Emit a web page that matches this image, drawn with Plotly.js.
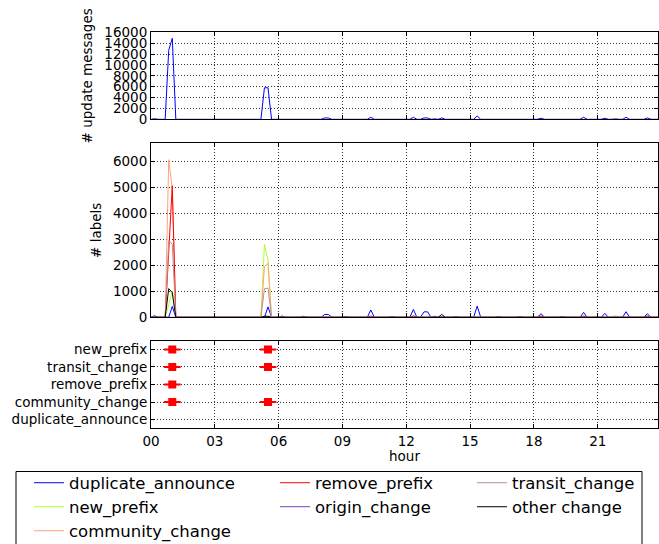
<!DOCTYPE html>
<html><head><meta charset="utf-8">
<script src="https://cdn.plot.ly/plotly-3.0.1.min.js"></script>
<style>html,body{margin:0;padding:0;background:#fff}</style>
</head><body><div id="chart" style="width:659px;height:544px"></div>
<script>
// 10-minute bins over one day (144 bins)
const hours = Array.from({length:144}, (_, i) => i / 6);
const tickHours = [0,3,6,9,12,15,18,21];
const tickLabels = ['00','03','06','09','12','15','18','21'];

const updateMessages = [
0,100,0,0,0,12700,14900,0,0,0,0,0,
0,0,0,0,0,0,0,0,0,0,0,0,
0,0,0,0,0,0,0,0,5800,5800,0,0,
0,60,0,0,0,0,0,50,0,0,0,0,
0,250,250,0,0,0,0,50,0,0,0,0,
0,0,370,0,0,0,0,0,50,0,0,0,
0,0,370,0,0,250,250,0,80,0,250,0,
0,0,60,0,0,0,0,0,600,0,0,0,
0,0,50,0,0,0,0,0,50,0,0,0,
0,0,200,0,0,0,0,0,50,0,0,0,
0,0,370,0,0,0,0,0,200,0,0,80,
0,0,370,0,0,0,0,0,250,0,0,0];

const duplicateAnnounce = [
0,60,0,0,0,0,420,0,0,0,0,0,
0,0,0,0,0,0,0,0,0,0,0,0,
0,0,0,0,0,0,0,0,0,400,0,0,
0,50,0,0,0,0,0,40,0,0,0,0,
0,110,110,0,0,0,0,30,0,0,0,0,
0,0,280,0,0,0,0,0,30,0,0,0,
0,0,300,0,0,210,210,0,40,0,30,0,
0,0,30,0,0,0,0,0,430,0,0,0,
0,0,30,0,0,0,0,0,30,0,0,0,
0,0,140,0,0,0,0,0,30,0,0,0,
0,0,190,0,0,0,0,0,150,0,0,0,
0,0,215,0,0,0,0,0,140,0,0,0];

const newPrefix = [
0,0,0,0,0,500,1000,0,0,0,0,0,
0,0,0,0,0,0,0,0,0,0,0,0,
0,0,0,0,0,0,0,0,2800,2200,0,0,
0,0,0,0,0,0,0,0,0,0,0,0,
0,0,0,0,0,0,0,0,0,0,0,0,
0,0,0,0,0,0,0,0,0,0,0,0,
0,0,0,0,0,0,0,0,0,0,0,0,
0,0,0,0,0,0,0,0,0,0,0,0,
0,0,0,0,0,0,0,0,0,0,0,0,
0,0,0,0,0,0,0,0,0,0,0,0,
0,0,0,0,0,0,0,0,0,0,0,0,
0,0,0,0,0,0,0,0,0,0,0,0];

const communityChange = [
0,0,0,0,0,6050,4950,0,0,0,0,0,
0,0,0,0,0,0,0,0,0,0,0,0,
0,0,0,0,0,0,0,0,1950,2070,0,0,
0,0,0,0,0,0,0,0,0,0,0,0,
0,0,0,0,0,0,0,0,0,0,0,0,
0,0,0,0,0,0,0,0,0,0,0,0,
0,0,0,0,0,0,0,0,0,0,0,0,
0,0,0,0,0,0,0,0,0,0,0,0,
0,0,0,0,0,0,0,0,0,0,0,0,
0,0,0,0,0,0,0,0,0,0,0,0,
0,0,0,0,0,0,0,0,0,0,0,60,
0,0,0,0,0,0,0,0,0,0,0,0];

const removePrefix = [
0,0,0,0,0,2500,5050,0,0,0,0,0,
0,0,0,0,0,0,0,0,0,0,0,0,
0,0,0,0,0,0,0,0,0,0,0,0,
0,0,0,0,0,0,0,0,0,0,0,0,
0,0,0,0,0,0,0,0,0,0,0,0,
0,0,50,0,0,0,0,0,0,0,0,0,
0,0,60,0,0,0,0,0,0,0,0,0,
0,0,0,0,0,0,0,0,0,0,0,0,
0,0,0,0,0,0,0,0,0,0,0,0,
0,0,50,0,0,0,0,0,0,0,0,0,
0,0,50,0,0,0,0,0,0,0,0,0,
0,0,0,0,0,0,0,0,50,0,0,0];

const originChange = [
0,0,0,0,0,0,0,0,0,0,0,0,
0,0,0,0,0,0,0,0,0,0,0,0,
0,0,0,0,0,0,0,0,0,0,0,0,
0,0,0,0,0,0,0,0,0,0,0,0,
0,20,20,0,0,0,0,0,0,0,0,0,
0,0,0,0,0,0,0,0,0,0,0,0,
0,0,0,0,0,0,0,0,0,0,0,0,
0,0,0,0,0,0,0,0,0,0,0,0,
0,0,0,0,0,0,0,0,0,0,0,0,
0,0,0,0,0,0,0,0,0,0,0,0,
0,0,0,0,0,0,0,0,0,0,0,0,
0,0,0,0,0,0,0,0,0,0,0,0];

const transitChange = [
0,0,0,0,0,2950,2800,0,0,0,0,0,
0,0,0,0,0,0,0,0,0,0,0,0,
0,0,0,0,0,0,0,0,1100,1120,0,0,
0,0,0,0,0,0,0,0,0,0,0,0,
0,0,0,0,0,0,0,0,0,0,0,0,
0,0,0,0,0,0,0,0,0,0,0,0,
0,0,0,0,0,0,0,0,0,0,0,0,
0,0,0,0,0,0,0,0,0,0,0,0,
0,0,0,0,0,0,0,0,0,0,0,0,
0,0,0,0,0,0,0,0,0,0,0,0,
0,0,0,0,0,0,0,0,0,0,0,0,
0,0,0,0,0,0,0,0,0,0,0,0];

const otherChange = [
0,0,0,0,0,1100,950,0,0,0,0,0,
0,0,0,0,0,0,0,0,0,0,0,0,
0,0,0,0,0,0,0,0,40,40,0,0,
0,0,0,0,0,0,0,0,0,0,0,0,
0,0,0,0,0,0,0,0,0,0,0,0,
0,0,0,0,0,0,0,0,0,0,0,0,
0,0,0,0,0,0,0,0,0,0,110,0,
0,0,0,0,0,0,0,0,0,0,0,0,
0,0,0,0,0,0,0,0,0,0,0,0,
0,0,0,0,0,0,0,0,0,0,0,0,
0,0,0,0,0,0,0,0,0,0,0,0,
0,0,0,0,0,0,0,0,0,0,0,0];

// detected events (bottom panel)
const eventCategories = ['duplicate_announce','community_change','remove_prefix','transit_change','new_prefix'];
const eventHours = [1.0, 1.0, 1.0, 1.0, 5.5, 5.5, 5.5];
const eventTypes = ['new_prefix','transit_change','remove_prefix','community_change','new_prefix','transit_change','community_change'];

const FONT = 'DejaVu Sans, sans-serif';
const W = 659, H = 544, L = 151, R = 1;
const pw = W - L - R;
const px = v => (v - L) / pw;
const py = v => 1 - v / H;

// legend slots: [left px, row centre px]
const series = [
  {name:'duplicate_announce', y:duplicateAnnounce, color:'#0000ff', slot:[29,483]},
  {name:'new_prefix', y:newPrefix, color:'#adff2f', slot:[29,507]},
  {name:'community_change', y:communityChange, color:'#ffa07a', slot:[29,531]},
  {name:'remove_prefix', y:removePrefix, color:'#ff0000', slot:[275,483]},
  {name:'origin_change', y:originChange, color:'#7a3fbf', slot:[275,507]},
  {name:'transit_change', y:transitChange, color:'#bc8f8f', slot:[472,483]},
  {name:'other change', y:otherChange, color:'#000000', slot:[472,507]}
];

const traces = [{
  x: hours, y: updateMessages, type:'scatter', mode:'lines',
  line:{color:'#0000ff', width:1}, xaxis:'x', yaxis:'y', showlegend:false
}];
const legends = {};
series.forEach((s, i) => {
  const key = i === 0 ? 'legend' : 'legend' + (i + 1);
  traces.push({
    x: hours, y: s.y, type:'scatter', mode:'lines', name:s.name,
    line:{color:s.color, width:1}, xaxis:'x2', yaxis:'y2', legend:key
  });
  legends[key] = {
    orientation:'v', xanchor:'left', yanchor:'middle', bgcolor:'rgba(0,0,0,0)',
    borderwidth:0, font:{family:FONT, size:16.5, color:'#000'},
    x: px(s.slot[0]), y: py(s.slot[1])
  };
});
traces.push({
  x: eventHours, y: eventTypes, type:'scatter', mode:'markers',
  marker:{symbol:'line-ew', size:12, line:{color:'#ff0000', width:2}},
  xaxis:'x3', yaxis:'y3', showlegend:false
});
traces.push({
  x: eventHours, y: eventTypes, type:'scatter', mode:'markers',
  marker:{symbol:'square', size:8, color:'#ff0000', line:{width:0}},
  xaxis:'x3', yaxis:'y3', showlegend:false
});

const tickFont = {family:FONT, size:13.5, color:'#000'};
const titleFont = {family:FONT, size:13.5, color:'#000'};
const common = {
  ticks:'inside', ticklen:4, tickwidth:1, tickcolor:'#000',
  showline:true, linecolor:'#000', linewidth:1, mirror:'ticks',
  showgrid:true, gridcolor:'#333', griddash:'1px,2px', gridwidth:1,
  zeroline:false, automargin:false, tickfont:tickFont
};
const xcommon = Object.assign({}, common, {
  range:[0, 23.8333], tickmode:'array', tickvals:tickHours, ticktext:tickLabels
});

const layout = Object.assign({
  width:W, height:H, margin:{l:L, r:R, t:0, b:0, autoexpand:false},
  paper_bgcolor:'#fff', plot_bgcolor:'#fff',
  font:{family:FONT, size:13.5, color:'#000'},
  xaxis: Object.assign({}, xcommon, {domain:[0,1], anchor:'y', showticklabels:false}),
  xaxis2: Object.assign({}, xcommon, {domain:[0,1], anchor:'y2', showticklabels:false, matches:'x'}),
  xaxis3: Object.assign({}, xcommon, {domain:[0,1], anchor:'y3', matches:'x',
    title:{text:'hour', font:titleFont, standoff:4}}),
  yaxis: Object.assign({}, common, {domain:[py(119.3), py(32.3)], anchor:'x', range:[0,16000], dtick:2000,
    tickformat:'d', title:{text:'# update messages', font:titleFont, standoff:8}}),
  yaxis2: Object.assign({}, common, {domain:[py(317.3), py(143.3)], anchor:'x2', range:[0,6680], dtick:1000,
    tickformat:'d', title:{text:'# labels', font:titleFont, standoff:8}}),
  yaxis3: Object.assign({}, common, {domain:[py(428.3), py(340.7)], anchor:'x3', type:'category',
    categoryorder:'array', categoryarray:eventCategories, range:[-0.5, 4.5]}),
  shapes:[{type:'rect', xref:'paper', yref:'paper', x0:px(16), x1:px(642), y0:py(560), y1:py(471.5),
    line:{color:'#000', width:1}, fillcolor:'rgba(0,0,0,0)'}],
  showlegend:true
}, legends);

Plotly.newPlot('chart', traces, layout, {displayModeBar:false, staticPlot:true});
</script></body></html>
